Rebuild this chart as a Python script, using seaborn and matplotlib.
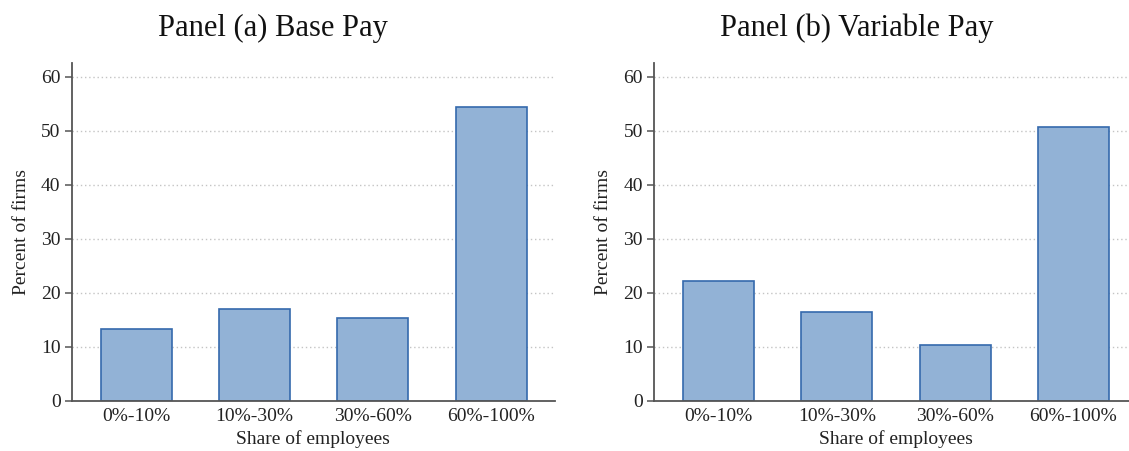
import matplotlib
matplotlib.use("Agg")
import matplotlib.pyplot as plt
import seaborn as sns
import pandas as pd

# Share-of-employees bins and percent of firms in each bin
categories = ["0%-10%", "10%-30%", "30%-60%", "60%-100%"]
base_pay = [13.2, 16.9, 15.3, 54.4]
variable_pay = [22.2, 16.5, 10.4, 50.7]
panel_titles = ["Panel (a) Base Pay", "Panel (b) Variable Pay"]
y_ticks = [0, 10, 20, 30, 40, 50, 60]

sns.set_theme(style="white")
plt.rcParams["font.family"] = ["Liberation Serif", "DejaVu Serif"]

FILL = "#92b2d6"
EDGE = "#3569ad"
SPINE = "#555555"
GRID = "#c4c4c4"

fig = plt.figure(figsize=(11.29, 4.51), dpi=100)

W, H = 1129, 451
ax_bottom = 1 - 400.7 / H
ax_height = (400.7 - 62.7) / H
ax_width = (555 - 71.7) / W
lefts = [71.7 / W, 654 / W]
title_x = [272.5 / W, 857 / W]

for i, (vals, title) in enumerate(zip([base_pay, variable_pay], panel_titles)):
    ax = fig.add_axes([lefts[i], ax_bottom, ax_width, ax_height])
    df = pd.DataFrame({"bin": categories, "pct": vals})
    sns.barplot(data=df, x="bin", y="pct", ax=ax, color=FILL, saturation=1,
                width=0.6, edgecolor=EDGE, linewidth=1.2, zorder=3)
    ax.set_xlim(-0.545, 3.54)
    ax.set_ylim(0, 62.6)
    ax.set_yticks(y_ticks)
    ax.set_yticklabels([str(t) for t in y_ticks])
    for t in y_ticks[1:]:
        ax.axhline(t, color=GRID, linestyle=(0, (1, 2)), linewidth=1.0, zorder=1)
    for side in ["top", "right"]:
        ax.spines[side].set_visible(False)
    for side in ["left", "bottom"]:
        ax.spines[side].set_color(SPINE)
        ax.spines[side].set_linewidth(1.3)
        ax.spines[side].set_zorder(4)
    ax.tick_params(axis="y", which="major", left=True, length=5, width=1.1,
                   color=SPINE, labelsize=14, labelcolor="#222222", pad=3)
    ax.tick_params(axis="x", which="major", bottom=False, length=0,
                   labelsize=14, labelcolor="#222222", pad=5)
    ax.set_xlabel("Share of employees", fontsize=14, color="#222222", labelpad=4)
    ax.set_ylabel("Percent of firms", fontsize=14, color="#222222", labelpad=8)
    fig.text(title_x[i], 1 - 28 / H, title, ha="center", va="center",
             fontsize=22, color="#111111")

fig.savefig("out.png", dpi=100)
